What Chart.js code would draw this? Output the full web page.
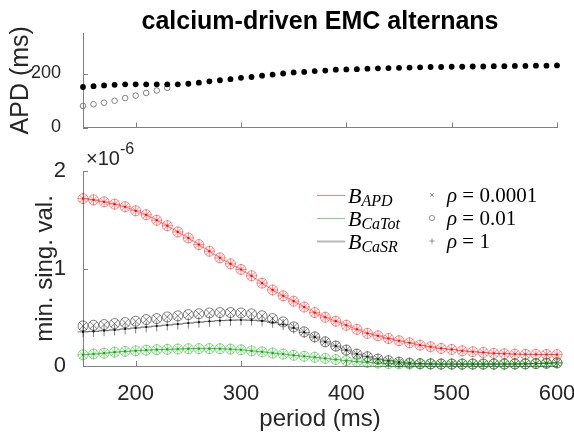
<!DOCTYPE html>
<html>
<head>
<meta charset="utf-8">
<script src="https://cdn.jsdelivr.net/npm/chart.js@4.4.1/dist/chart.umd.min.js"></script>
<style>
  html, body { margin: 0; padding: 0; background: #fff; }
  #wrap { position: relative; width: 574px; height: 439px; }
  canvas { position: absolute; left: 0; top: 0; }
</style>
</head>
<body>
<div id="wrap">
  <canvas id="apdChart" width="574" height="439"></canvas>
  <canvas id="svChart" width="574" height="439"></canvas>
</div>
<script>
// pacing period (ms)
const periods = [150,160,170,180,190,200,210,220,230,240,
                 250,260,270,280,290,300,310,320,330,340,
                 350,360,370,380,390,400,410,420,430,440,
                 450,460,470,480,490,500,510,520,530,540,
                 550,560,570,580,590,600];

// top panel: APD (ms), long beat and short beat (alternans only at short periods)
const apdLong = [150,153,156,158,160,160,160,160,160,160,
                 162,166,171,175,179,184,187,192,196,200,
                 204,206,209,211,214,215,216,218,219,220,
                 221,222,223,224,224,225,225,226,226,227,
                 227,228,228,229,229,230];
const shortPeriods = [150,160,170,180,190,200,210,220,230];
const apdShort = [80,86,92,99,109,118,128,137,147];

// bottom panel: minimum singular value, in units of 1e-6
const bApd = [1.717,1.704,1.684,1.660,1.633,1.592,1.551,1.495,1.439,1.375,
              1.313,1.245,1.177,1.109,1.048,0.990,0.925,0.850,0.780,0.720,
              0.665,0.605,0.548,0.500,0.460,0.418,0.376,0.335,0.310,0.282,
              0.259,0.238,0.214,0.197,0.180,0.170,0.156,0.146,0.139,0.130,
              0.126,0.122,0.120,0.119,0.118,0.117];
const bCaTot = [0.115,0.123,0.132,0.142,0.150,0.156,0.162,0.167,0.171,0.174,
                0.177,0.178,0.178,0.177,0.173,0.166,0.155,0.145,0.133,0.122,
                0.110,0.100,0.090,0.078,0.066,0.055,0.045,0.037,0.030,0.025,
                0.022,0.020,0.020,0.020,0.020,0.020,0.020,0.020,0.020,0.020,
                0.020,0.021,0.023,0.026,0.030,0.033];
const bCaSR = [0.411,0.418,0.425,0.435,0.445,0.459,0.476,0.486,0.503,0.514,
               0.527,0.536,0.544,0.548,0.548,0.544,0.535,0.515,0.486,0.452,
               0.401,0.350,0.299,0.248,0.204,0.163,0.122,0.095,0.071,0.054,
               0.040,0.030,0.025,0.022,0.020,0.020,0.020,0.020,0.020,0.020,
               0.020,0.021,0.022,0.024,0.028,0.032];
const bCaSRrho1 = [0.350,0.355,0.362,0.370,0.380,0.390,0.400,0.410,0.420,0.430,
                   0.440,0.450,0.458,0.465,0.470,0.472,0.470,0.462,0.448,0.425,
                   0.390,0.345,0.296,0.248,0.204,0.163,0.122,0.095,0.071,0.054,
                   0.040,0.030,0.025,0.022,0.020,0.020,0.020,0.020,0.020,0.020,
                   0.020,0.021,0.022,0.024,0.028,0.032];

const xTicks = [200,300,400,500,600];
const apdTicks = [0,200];
const svTicks = [0,1,2];
const rhoLabels = ['0.0001','0.01','1'];
const rhoMarkers = ['crossRot','circle','cross'];

const SANS = '"Liberation Sans", Arial, sans-serif';
const SERIF = '"Liberation Serif", "Times New Roman", serif';
const AXIS = '#808080';
const TXT = '#262626';

Chart.defaults.font.family = SANS;
Chart.defaults.color = TXT;

function pts(xs, ys) {
  return xs.map((x, i) => ({x: x, y: ys[i]}));
}

// MATLAB style ticks pointing into the plot
const inwardTicks = {
  id: 'inwardTicks',
  afterDraw(chart) {
    const ctx = chart.ctx, a = chart.chartArea;
    ctx.save();
    ctx.strokeStyle = AXIS;
    ctx.lineWidth = 1;
    ctx.beginPath();
    chart.scales.x.ticks.forEach(t => {
      const px = Math.round(chart.scales.x.getPixelForValue(t.value)) + 0.5;
      ctx.moveTo(px, a.bottom); ctx.lineTo(px, a.bottom - 5);
    });
    chart.scales.y.ticks.forEach(t => {
      const py = Math.round(chart.scales.y.getPixelForValue(t.value)) + 0.5;
      ctx.moveTo(a.left, py); ctx.lineTo(a.left + 5, py);
    });
    ctx.stroke();
    ctx.restore();
  }
};

const titlePlugin = {
  id: 'figTitle',
  afterDraw(chart) {
    const ctx = chart.ctx, a = chart.chartArea;
    ctx.save();
    ctx.fillStyle = '#000';
    ctx.font = 'bold 25px ' + SANS;
    ctx.textAlign = 'center';
    ctx.textBaseline = 'alphabetic';
    ctx.fillText('calcium-driven EMC alternans', (a.left + a.right) / 2, 29);
    ctx.restore();
  }
};

function xAxis(h, showLabels, title) {
  return {
    type: 'linear', min: 150, max: 600,
    afterBuildTicks(s) { s.ticks = xTicks.map(v => ({value: v})); },
    afterFit(s) { s.height = h; s.paddingLeft = 0; s.paddingRight = 0; },
    grid: {display: false},
    border: {display: true, color: AXIS, width: 1},
    ticks: {display: showLabels, autoSkip: false, maxRotation: 0, font: {size: 22}, padding: 7, color: TXT},
    title: title ? {display: true, text: title, font: {size: 24}, color: TXT, padding: {top: 0, bottom: 5}} : {display: false}
  };
}

function yAxis(min, max, ticks, fontSize, pad, title, titleSize, titlePad) {
  return {
    type: 'linear', min: min, max: max,
    afterBuildTicks(s) { s.ticks = ticks.map(v => ({value: v})); },
    afterFit(s) { s.width = 83; s.paddingTop = 0; s.paddingBottom = 0; },
    grid: {display: false},
    border: {display: true, color: AXIS, width: 1},
    ticks: {autoSkip: false, font: {size: fontSize}, padding: pad, color: TXT, callback: v => String(v)},
    title: {display: true, text: title, font: {size: titleSize}, color: TXT, padding: {top: titlePad, bottom: 0}}
  };
}

// ---------- top panel ----------
new Chart(document.getElementById('apdChart'), {
  type: 'scatter',
  data: {
    datasets: [
      {
        label: 'APD long',
        data: pts(periods, apdLong),
        pointStyle: 'circle', pointRadius: 2.9,
        pointBackgroundColor: '#000', pointBorderColor: '#000', pointBorderWidth: 0,
        clip: false
      },
      {
        label: 'APD short',
        data: pts(shortPeriods, apdShort),
        pointStyle: 'circle', pointRadius: 2.8,
        pointBackgroundColor: 'rgba(0,0,0,0)', pointBorderColor: '#666', pointBorderWidth: 0.8,
        clip: false
      }
    ]
  },
  options: {
    responsive: false, animation: false, devicePixelRatio: 1,
    layout: {padding: {left: 0, top: 33, right: 17, bottom: 301.5}},
    plugins: {legend: {display: false}, tooltip: {enabled: false}},
    scales: {
      x: xAxis(10, false, null),
      y: yAxis(0, 350, apdTicks, 18, 14, 'APD (ms)', 25, 6)
    }
  },
  plugins: [inwardTicks, titlePlugin]
});

// ---------- bottom panel ----------
const series = [
  {name: 'APD', sub: 'APD', line: 'rgba(255,0,0,0.5)', mark: 'rgba(255,0,0,0.5)', dot: 'rgba(230,0,0,0.9)', lw: 1,
   vals: [bApd, bApd, bApd]},
  {name: 'CaTot', sub: 'CaTot', line: 'rgba(0,170,0,0.5)', mark: 'rgba(0,170,0,0.5)', dot: 'rgba(0,150,0,0.9)', lw: 1,
   vals: [bCaTot, bCaTot, bCaTot]},
  {name: 'CaSR', sub: 'CaSR', line: 'rgba(0,0,0,0.28)', mark: 'rgba(0,0,0,0.55)', dot: 'rgba(0,0,0,0.9)', lw: 2,
   vals: [bCaSR, bCaSR, bCaSRrho1]}
];

const svDatasets = [];
series.forEach(s => {
  s.vals.forEach((v, k) => {
    svDatasets.push({
      label: 'B_' + s.name + ' rho=' + rhoLabels[k],
      data: pts(periods, v),
      pointStyle: rhoMarkers[k],
      pointRadius: k === 2 ? 5.5 : 5,
      pointBorderColor: s.mark, pointBackgroundColor: 'rgba(0,0,0,0)', pointBorderWidth: 0.9,
      showLine: false, clip: false
    });
  });
});
series.forEach(s => {
  svDatasets.push({
    label: 'B_' + s.name,
    data: pts(periods, s.vals[2]),
    showLine: true, borderColor: s.line, borderWidth: 1,
    pointStyle: 'circle', pointRadius: 1.1,
    pointBackgroundColor: s.dot, pointBorderWidth: 0,
    clip: false
  });
});

const extraText = {
  id: 'extraText',
  afterDraw(chart) {
    const ctx = chart.ctx, a = chart.chartArea;
    ctx.save();
    // axis exponent
    ctx.fillStyle = TXT;
    ctx.textBaseline = 'alphabetic';
    ctx.textAlign = 'left';
    ctx.font = '20px ' + SANS;
    const ex = a.left + 3, ey = 165;
    ctx.fillText('\u00d710', ex, ey);
    const w = ctx.measureText('\u00d710').width;
    ctx.font = '16px ' + SANS;
    ctx.fillText('-6', ex + w, ey - 11);

    // legend
    const rows = [195, 218, 241];
    series.forEach((s, i) => {
      const y = rows[i];
      ctx.strokeStyle = s.line;
      ctx.lineWidth = s.lw;
      ctx.beginPath();
      ctx.moveTo(317, y + 0.5); ctx.lineTo(345, y + 0.5);
      ctx.stroke();
      ctx.fillStyle = '#000';
      ctx.font = 'italic 22px ' + SERIF;
      ctx.fillText('B', 348, y + 7.5);
      const bw = ctx.measureText('B').width;
      ctx.font = 'italic 16px ' + SERIF;
      ctx.fillText(s.sub, 348 + bw, y + 11);

      ctx.strokeStyle = '#777';
      ctx.fillStyle = 'rgba(0,0,0,0)';
      ctx.lineWidth = 0.8;
      Chart.helpers.drawPoint(ctx, {pointStyle: rhoMarkers[i], radius: 2.6, rotation: 0, borderWidth: 0.8}, 432, y);

      ctx.fillStyle = '#000';
      ctx.font = 'italic 21px ' + SERIF;
      ctx.fillText('\u03c1', 447, y + 7);
      const rw = ctx.measureText('\u03c1').width;
      ctx.font = '21px ' + SERIF;
      ctx.fillText(' = ' + rhoLabels[i], 447 + rw, y + 7);
    });
    ctx.restore();
  }
};

new Chart(document.getElementById('svChart'), {
  type: 'scatter',
  data: {datasets: svDatasets},
  options: {
    responsive: false, animation: false, devicePixelRatio: 1,
    layout: {padding: {left: 0, top: 171, right: 17, bottom: 0}},
    plugins: {legend: {display: false}, tooltip: {enabled: false}},
    scales: {
      x: xAxis(73, true, 'period (ms)'),
      y: yAxis(0, 2, svTicks, 22, 9, 'min. sing. val.', 24, 31)
    }
  },
  plugins: [inwardTicks, extraText]
});
</script>
</body>
</html>
